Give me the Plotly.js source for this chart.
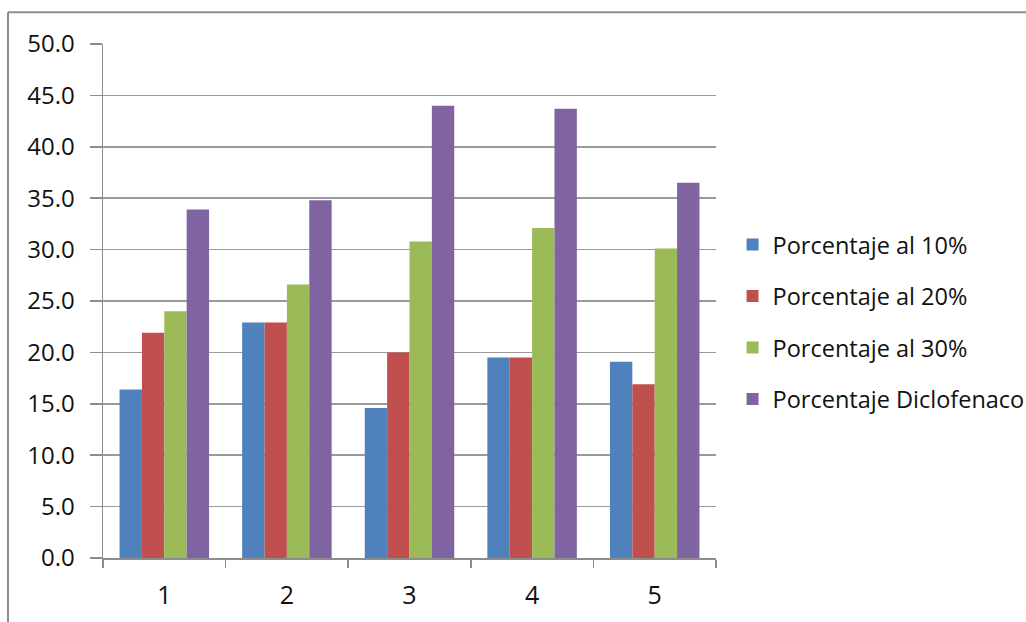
<!DOCTYPE html>
<html>
<head>
<meta charset="utf-8">
<script src="https://cdn.plot.ly/plotly-3.0.1.min.js"></script>
<style>html,body{margin:0;padding:0;background:#fff;}#chart{width:1026px;height:622px;}</style>
</head>
<body>
<div id="chart"></div>
<script>
const categories = ["1", "2", "3", "4", "5"];
const seriesNames = ["Porcentaje al 10%", "Porcentaje al 20%", "Porcentaje al 30%", "Porcentaje Diclofenaco"];
const pct10 = [16.4, 22.9, 14.6, 19.5, 19.1];
const pct20 = [21.9, 22.9, 20.0, 19.5, 16.9];
const pct30 = [24.0, 26.6, 30.8, 32.1, 30.1];
const pctDiclofenaco = [33.9, 34.8, 44.0, 43.7, 36.5];
const yTickVals = [0, 5, 10, 15, 20, 25, 30, 35, 40, 45, 50];
const yTickText = ["0.0", "5.0", "10.0", "15.0", "20.0", "25.0", "30.0", "35.0", "40.0", "45.0", "50.0"];

const colors = ["#4F81BD", "#C0504D", "#9BBB59", "#8064A2"];
const allSeries = [pct10, pct20, pct30, pctDiclofenaco];

const traces = allSeries.map((vals, i) => ({
  type: "bar",
  name: seriesNames[i],
  x: categories,
  y: vals,
  marker: { color: colors[i] },
  legendgroup: "g" + i,
  hoverinfo: "skip"
}));

const FONT = "'Open Sans', Lato, sans-serif";

const layout = {
  width: 1026,
  height: 622,
  margin: { l: 103, r: 310, t: 44, b: 64, pad: 0, autoexpand: false },
  paper_bgcolor: "#ffffff",
  plot_bgcolor: "#ffffff",
  barmode: "group",
  bargap: 0.27,
  bargroupgap: 0,
  font: { family: FONT, size: 23, color: "#111111" },
  showlegend: true,
  legend: {
    xref: "container", yref: "container",
    x: 0.714, y: 0.482, xanchor: "left", yanchor: "middle",
    font: { family: FONT, size: 23.5, color: "#111111" },
    tracegroupgap: 18,
    bgcolor: "rgba(0,0,0,0)"
  },
  xaxis: {
    type: "category",
    showline: true, linecolor: "#8c8c8c", linewidth: 1.5,
    ticks: "outside", ticklen: 8, tickcolor: "#8c8c8c", tickwidth: 1.5,
    tickson: "boundaries",
    showgrid: false, zeroline: false,
    ticklabelstandoff: 14,
    tickfont: { family: FONT, size: 25, color: "#111111" },
    fixedrange: true
  },
  yaxis: {
    range: [0, 50],
    tickvals: yTickVals,
    ticktext: yTickText,
    showline: true, linecolor: "#8c8c8c", linewidth: 1.5,
    ticks: "outside", ticklen: 12, tickcolor: "#8c8c8c", tickwidth: 1.5,
    showgrid: true, gridcolor: "#9a9a9a", gridwidth: 1.5,
    zeroline: false,
    ticklabelstandoff: 10,
    tickfont: { family: FONT, size: 24, color: "#111111" },
    fixedrange: true
  },
  shapes: [
    { type: "line", xref: "paper", yref: "paper", x0: -0.155, x1: 1.6, y0: 1.062, y1: 1.062, line: { color: "#8c8c8c", width: 2 } },
    { type: "line", xref: "paper", yref: "paper", x0: -0.155, x1: -0.155, y0: 1.062, y1: -0.2, line: { color: "#8c8c8c", width: 2 } }
  ]
};

Plotly.newPlot("chart", traces, layout, { displayModeBar: false, staticPlot: true });
</script>
</body>
</html>
